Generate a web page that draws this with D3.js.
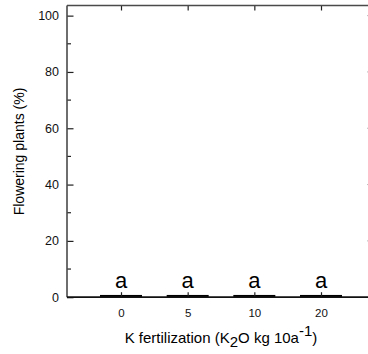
<!DOCTYPE html>
<html>
<head>
<meta charset="utf-8">
<script src="https://cdn.jsdelivr.net/npm/d3@7"></script>
<style>
  html, body { margin: 0; padding: 0; background: #fff; }
  svg { display: block; font-family: "Liberation Sans", Arial, Helvetica, sans-serif; }
</style>
</head>
<body>
<svg id="chart" width="368" height="354"></svg>
<script>
// Potassium rates (K2O kg 10a^-1) and share of flowering plants (%)
const categories = ["0", "5", "10", "20"];
const flowering = [0.8, 0.8, 0.8, 0.8];
const letters = ["a", "a", "a", "a"];
const yTicksMajor = [0, 20, 40, 60, 80, 100];
const yTicksMinor = [10, 30, 50, 70, 90];
const yDomain = [0, 103.6];

const svg = d3.select("#chart");
const plotLeft = 67, plotRight = 375, plotTop = 5.5, plotBottom = 297.2;

const x = d3.scalePoint().domain(categories).range([plotLeft, plotRight]).padding(0.81);
const y = d3.scaleLinear().domain(yDomain).range([plotBottom, plotTop]);

const frameColor = "#4a4a4a";

// Bars
svg.append("g").selectAll("rect")
  .data(categories)
  .join("rect")
  .attr("x", d => x(d) - 21)
  .attr("width", 42)
  .attr("y", (d, i) => y(flowering[i]))
  .attr("height", (d, i) => y(0) - y(flowering[i]))
  .attr("fill", "#000");

// Left axis (ticks inside)
const yAxisL = svg.append("g").attr("transform", `translate(${plotLeft},0)`)
  .call(d3.axisLeft(y).tickValues(yTicksMajor).tickSize(-6.5).tickPadding(8));
yAxisL.select(".domain").remove();
yAxisL.selectAll(".tick line").attr("stroke", "#222").attr("stroke-width", 1.2);
yAxisL.selectAll("text").attr("font-size", 12.5).attr("fill", "#111")
  .attr("font-family", '"Liberation Sans", Arial, sans-serif');
svg.append("g").selectAll("line")
  .data(yTicksMinor).join("line")
  .attr("x1", plotLeft).attr("x2", plotLeft + 4)
  .attr("y1", d => y(d)).attr("y2", d => y(d))
  .attr("stroke", "#222").attr("stroke-width", 1.2);

// Right axis ticks (inside)
svg.append("g").selectAll("line")
  .data(yTicksMajor.filter(d => d > 0)).join("line")
  .attr("x1", plotRight).attr("x2", plotRight - 8)
  .attr("y1", d => y(d)).attr("y2", d => y(d))
  .attr("stroke", "#bbb").attr("stroke-width", 1);

// Bottom axis (ticks inside)
const xAxisB = svg.append("g").attr("transform", `translate(0,${plotBottom})`)
  .call(d3.axisBottom(x).tickSize(-5).tickPadding(12));
xAxisB.select(".domain").remove();
xAxisB.selectAll(".tick line").attr("stroke", "#222").attr("stroke-width", 1.2);
xAxisB.selectAll("text").attr("font-size", 11.5).attr("fill", "#111")
  .attr("font-family", '"Liberation Sans", Arial, sans-serif');

// Top axis ticks (inside)
const xAxisT = svg.append("g").attr("transform", `translate(0,${plotTop})`)
  .call(d3.axisTop(x).tickSize(-5).tickFormat(""));
xAxisT.select(".domain").remove();
xAxisT.selectAll(".tick line").attr("stroke", "#222").attr("stroke-width", 1.2);

// Frame
svg.append("line").attr("x1", plotLeft).attr("x2", plotLeft).attr("y1", plotTop).attr("y2", plotBottom)
  .attr("stroke", frameColor).attr("stroke-width", 1.6);
svg.append("line").attr("x1", plotLeft).attr("x2", plotRight).attr("y1", plotTop).attr("y2", plotTop)
  .attr("stroke", frameColor).attr("stroke-width", 1.6);
svg.append("line").attr("x1", plotLeft).attr("x2", plotRight).attr("y1", plotBottom).attr("y2", plotBottom)
  .attr("stroke", "#111").attr("stroke-width", 1.8);

// Significance letters
svg.append("g").selectAll("text")
  .data(categories).join("text")
  .attr("x", d => x(d))
  .attr("y", (d, i) => y(flowering[i]) - 6.5)
  .attr("text-anchor", "middle")
  .attr("font-size", 22)
  .attr("fill", "#000")
  .text((d, i) => letters[i]);

// Axis titles
const xt = svg.append("text")
  .attr("x", 221).attr("y", 343)
  .attr("text-anchor", "middle")
  .attr("font-size", 15).attr("fill", "#000");
xt.append("tspan").text("K fertilization (K");
xt.append("tspan").attr("dy", 3.5).text("2");
xt.append("tspan").attr("dy", -3.5).text("O kg 10a");
xt.append("tspan").attr("dy", -7).text("-1");
xt.append("tspan").attr("dy", 7).text(")");

svg.append("text")
  .attr("transform", "translate(24,151.5) rotate(-90)")
  .attr("text-anchor", "middle")
  .attr("font-size", 14).attr("fill", "#000")
  .text("Flowering plants (%)");
</script>
</body>
</html>
